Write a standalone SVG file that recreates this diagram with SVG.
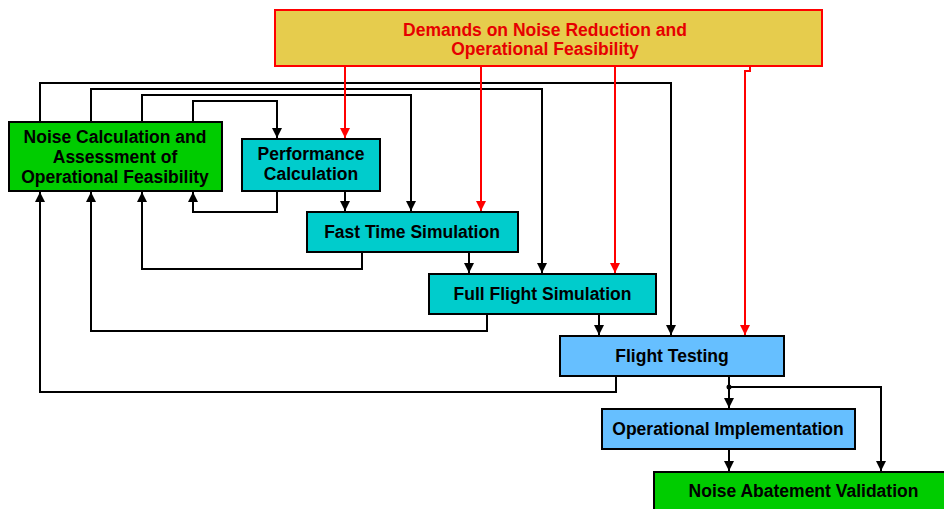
<svg xmlns="http://www.w3.org/2000/svg" width="944" height="509" viewBox="0 0 944 509">
<defs>
<style>
.box{stroke:#000;stroke-width:2}
.g{fill:#00CC00}
.c{fill:#00CCCC}
.b{fill:#66BFFF}
.y{fill:#E6CC4D;stroke:#FF0000;stroke-width:2}
text{font-family:"Liberation Sans",Arial,sans-serif;font-weight:bold;font-size:17.5px;text-anchor:middle;fill:#000}
.rt{fill:#E60000}
.k{fill:none;stroke:#000;stroke-width:2}
.r{fill:none;stroke:#FF0000;stroke-width:2}
</style>
<marker id="ak" markerUnits="userSpaceOnUse" markerWidth="10" markerHeight="10" refX="10" refY="5" orient="auto"><path d="M0,0 L10,5 L0,10 z" fill="#000"/></marker>
<marker id="ar" markerUnits="userSpaceOnUse" markerWidth="10" markerHeight="10" refX="10" refY="5" orient="auto"><path d="M0,0 L10,5 L0,10 z" fill="#FF0000"/></marker>
</defs>
<rect width="944" height="509" fill="#fff"/>
<g id="connectors">
<g class="k" marker-end="url(#ak)">
<path d="M40,122 V83 H671 V335"/>
<path d="M91,122 V89 H542 V273"/>
<path d="M142,122 V95 H411 V211"/>
<path d="M193,122 V101 H277 V138"/>
<path d="M277,191 V212 H193 V192"/>
<path d="M362,252 V269 H142 V192"/>
<path d="M487,314 V331 H91 V192"/>
<path d="M616,376 V392 H40 V192"/>
<path d="M345,191 V211"/>
<path d="M469,252 V273"/>
<path d="M599,314 V335"/>
<path d="M729,376 V408"/>
<path d="M729,387 H881 V471"/>
<path d="M729,449 V471"/>
</g>
<circle cx="729" cy="387" r="2.5" fill="#000"/>
<g class="r" marker-end="url(#ar)">
<path d="M345,66 V138"/>
<path d="M481,66 V211"/>
<path d="M615,66 V273"/>
<path d="M750,66 V71 H745 V335"/>
</g>
</g>
<g id="demands">
<rect class="y" x="275" y="10" width="547" height="56"/>
<text class="rt" x="545" y="35.5">Demands on Noise Reduction and</text>
<text class="rt" x="545" y="55">Operational Feasibility</text>
</g>
<g id="noise-calc">
<rect class="box g" x="9" y="122" width="213" height="69"/>
<text x="115" y="143">Noise Calculation and</text>
<text x="115" y="163">Assessment of</text>
<text x="115" y="183">Operational Feasibility</text>
</g>
<g id="performance">
<rect class="box c" x="242" y="139" width="138" height="52"/>
<text x="311" y="160">Performance</text>
<text x="311" y="180">Calculation</text>
</g>
<g id="fast-time">
<rect class="box c" x="307" y="212" width="211" height="40"/>
<text x="412" y="238">Fast Time Simulation</text>
</g>
<g id="full-flight">
<rect class="box c" x="429" y="274" width="227" height="40"/>
<text x="542.5" y="300">Full Flight Simulation</text>
</g>
<g id="flight-testing">
<rect class="box b" x="560" y="336" width="224" height="40"/>
<text x="672" y="362">Flight Testing</text>
</g>
<g id="operational-implementation">
<rect class="box b" x="602" y="409" width="253" height="40"/>
<text x="728" y="435">Operational Implementation</text>
</g>
<g id="noise-abatement-validation">
<rect class="box g" x="654" y="472" width="300" height="45"/>
<text x="803.5" y="497">Noise Abatement Validation</text>
</g>
</svg>
